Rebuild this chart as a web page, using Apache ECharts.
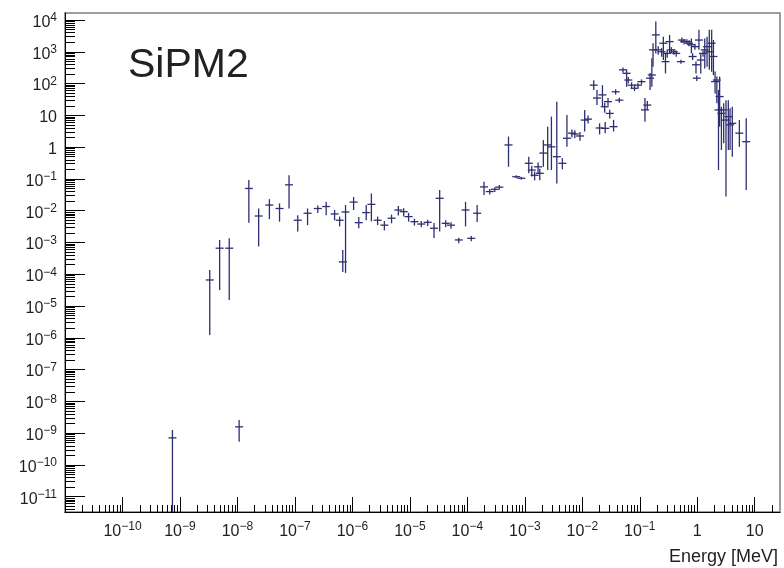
<!DOCTYPE html>
<html>
<head>
<meta charset="utf-8">
<script src="https://cdn.jsdelivr.net/npm/echarts@6/dist/echarts.min.js"></script>
<style>
  html, body { margin: 0; padding: 0; background: #ffffff; }
  #chart { width: 784px; height: 568px; }
</style>
</head>
<body>
<div id="chart"></div>
<script>
// SiPM2 energy spectrum: bin energy (MeV), bin content and error-bar bounds
const energy = [
  7.4e-10, 1.07e-8, 3.3e-9, 4.9e-9, 7.2e-9, 1.58e-8, 2.34e-8, 3.6e-8, 5.4e-8, 7.9e-8,
  1.12e-7, 1.66e-7, 2.5e-7, 3.5e-7, 4.9e-7, 6.0e-7, 6.8e-7, 7.6e-7, 1.05e-6, 1.29e-6,
  1.74e-6, 2.14e-6, 2.75e-6, 3.6e-6, 4.8e-6, 6.3e-6, 7.8e-6, 9.5e-6, 1.2e-5, 1.58e-5,
  2.04e-5, 2.63e-5, 3.3e-5, 4.2e-5, 5.2e-5, 7.1e-5, 9.3e-5, 1.17e-4, 1.48e-4, 1.95e-4,
  2.45e-4, 3.0e-4, 3.6e-4, 5.2e-4, 7.1e-4, 8.7e-4, 1.17e-3, 1.32e-3, 1.48e-3, 1.70e-3,
  1.82e-3, 2.1e-3, 2.5e-3, 2.9e-3, 3.6e-3, 4.5e-3, 5.4e-3, 6.6e-3, 7.4e-3, 9.1e-3,
  0.011, 0.0126, 0.0158, 0.018, 0.020, 0.0224, 0.0245, 0.025, 0.028, 0.030,
  0.035, 0.038, 0.044, 0.051, 0.059, 0.063, 0.072, 0.081, 0.093, 0.107,
  0.123, 0.135, 0.151, 0.162, 0.170, 0.19, 0.209, 0.24, 0.257, 0.28,
  0.30, 0.33, 0.355, 0.39, 0.43, 0.52, 0.54, 0.59, 0.66, 0.72,
  0.79, 0.83, 0.91, 0.95, 0.98, 1.07, 1.15, 1.26, 1.35, 1.48,
  1.62, 1.78, 1.91, 2.04, 2.19, 2.34, 2.45, 2.63, 2.88, 3.16,
  3.47, 3.72, 4.07, 5.4, 7.1
];
const counts = [
  7.1e-10, 1.58e-9, 6.6e-5, 6.6e-4, 6.6e-4, 0.050, 6.8e-3, 0.015, 0.0117, 0.065,
  5.0e-3, 8.3e-3, 0.0117, 0.0135, 7.9e-3, 5.0e-3, 2.45e-4, 9.1e-3, 0.0186, 4.2e-3,
  8.7e-3, 0.0158, 5.0e-3, 3.5e-3, 5.8e-3, 0.0105, 9.3e-3, 6.5e-3, 4.5e-3, 3.8e-3,
  4.3e-3, 2.8e-3, 0.0245, 4.0e-3, 3.5e-3, 1.2e-3, 0.0105, 1.35e-3, 8.3e-3, 0.056,
  0.040, 0.047, 0.055, 1.17, 0.117, 0.105, 0.31, 0.19, 0.13, 0.24,
  0.15, 0.65, 1.17, 1.02, 0.50, 0.31, 1.9, 2.75, 2.6, 2.24,
  7.1, 7.6, 89, 35, 4.0, 44, 18.6, 3.9, 27, 11.5,
  4.4, 55, 30, 270, 210, 129, 89, 71, 89, 115,
  14.8, 21, 148, 186, 1150, 3400, 1150, 1000, 1860, 490,
  890, 2090, 1150, 1000, 890, 490, 2340, 2090, 2090, 1860,
  1660, 710, 1450, 390, 148, 2340, 550, 890, 1150, 1450,
  1000, 1860, 710, 115, 129, 14.8, 39, 11.5, 14.8, 7.1,
  9.1, 5.0, 5.6, 2.75, 1.48
];
const lowerBound = [
  0, 5.4e-10, 1.23e-6, 3.16e-5, 1.55e-5, 4.2e-3, 7.4e-4, 5.4e-3, 4.5e-3, 0.0117,
  2.2e-3, 3.5e-3, 8.5e-3, 7.2e-3, 5.0e-3, 3.2e-3, 1.17e-4, 1.1e-4, 0.0105, 2.8e-3,
  5.0e-3, 4.6e-3, 3.5e-3, 2.4e-3, 4.0e-3, 7.0e-3, 6.5e-3, 4.5e-3, 3.4e-3, 3.0e-3,
  3.3e-3, 1.38e-3, 2.2e-3, 3.0e-3, 2.7e-3, 9.5e-4, 3.2e-3, 1.1e-3, 4.4e-3, 0.031,
  0.032, 0.039, 0.046, 0.24, 0.105, 0.095, 0.15, 0.12, 0.09, 0.15,
  0.09, 0.24, 0.19, 0.19, 0.072, 0.2, 1.02, 2.0, 1.9, 1.6,
  3.1, 5.5, 63, 21, 2.5, 18.6, 12, 2.75, 20, 8,
  3.1, 45, 25, 220, 79, 100, 70, 58, 72, 95,
  6.3, 15, 63, 79, 339, 890, 800, 700, 550, 209,
  650, 910, 900, 800, 700, 420, 1900, 1700, 1700, 1500,
  890, 550, 1150, 209, 120, 1150, 209, 700, 300, 340,
  270, 235, 186, 49, 24, 0.19, 4.4, 0.81, 1.32, 0.028,
  0.81, 0.81, 0.5, 1.02, 0.045
];
const upperBound = [
  1.26e-9, 2.6e-9, 1.35e-4, 1.2e-3, 1.35e-3, 0.093, 0.0117, 0.023, 0.017, 0.13,
  7.2e-3, 0.0117, 0.0145, 0.019, 0.0105, 6.5e-3, 5.8e-4, 0.015, 0.027, 6.3e-3,
  0.015, 0.035, 6.5e-3, 4.7e-3, 7.5e-3, 0.014, 0.012, 8.5e-3, 5.6e-3, 4.7e-3,
  5.2e-3, 4.1e-3, 0.045, 5.0e-3, 4.3e-3, 1.4e-3, 0.019, 1.6e-3, 0.015, 0.081,
  0.048, 0.055, 0.064, 2.14, 0.13, 0.115, 0.50, 0.26, 0.17, 0.33,
  0.21, 1.66, 4.4, 9.1, 27, 0.45, 10.2, 3.6, 3.4, 3.0,
  14.8, 9.8, 126, 63, 5.6, 89, 25, 6.2, 35, 15,
  7.2, 66, 36, 320, 270, 160, 110, 85, 105, 135,
  35, 28, 214, 630, 1860, 8900, 1500, 1300, 3000, 890,
  1150, 3400, 1400, 1200, 1100, 560, 2800, 2500, 2500, 2300,
  2630, 900, 1800, 490, 180, 4900, 890, 1100, 2630, 2950,
  4900, 4900, 2340, 240, 166, 63, 166, 18.6, 24, 30,
  30, 16.6, 18.6, 7.1, 8.1
];

// Axis ranges (MeV on x, entries on y) and decade tick labels
const xRange = [1e-11, 27.5];
const yRange = [3.3e-12, 1.66e4];
const xLabelDecades = [-10, -9, -8, -7, -6, -5, -4, -3, -2, -1, 0, 1];
const yLabelDecades = [-11, -10, -9, -8, -7, -6, -5, -4, -3, -2, -1, 0, 1, 2, 3, 4];

const FONT = '"Liberation Sans", Arial, Helvetica, sans-serif';
const INK = '#1e1e1e';
const MARK = '#2e2e72';

// Both axes are logarithmic: positions are handled in log10 space
const lg = v => Math.log10(v);
const xMin = lg(xRange[0]), xMax = lg(xRange[1]);
const yMin = lg(yRange[0]), yMax = lg(yRange[1]);

function majorTicks(lo, hi) {
  const out = [];
  for (let n = Math.ceil(lo); n <= Math.floor(hi); n++) out.push(n);
  return out;
}
function minorTicks(lo, hi) {
  const out = [];
  for (let n = Math.floor(lo) - 1; n <= Math.ceil(hi); n++) {
    for (let k = 2; k <= 9; k++) {
      const v = n + Math.log10(k);
      if (v > lo && v < hi) out.push(v);
    }
  }
  return out;
}

function powerLabel(v) {
  const n = Math.round(v);
  if (n === 0) return '{b|1}';
  if (n === 1) return '{b|10}';
  return '{b|10}{s|' + (n < 0 ? '\u2212' : '') + Math.abs(n) + '}';
}
const labelRich = {
  b: { fontSize: 16, lineHeight: 16, padding: [5, 0, 0, 0], fontFamily: FONT, color: INK },
  s: { fontSize: 12, lineHeight: 12, verticalAlign: 'top', fontFamily: FONT, color: INK }
};

const points = energy.map((e, i) => {
  const lo = lowerBound[i] > 0 ? lg(lowerBound[i]) : yMin - 2;
  return [lg(e), lg(counts[i]), lo, lg(upperBound[i])];
});

const chart = echarts.init(document.getElementById('chart'), null, { renderer: 'canvas' });

const baseX = {
  type: 'value', min: xMin, max: xMax, position: 'bottom',
  splitLine: { show: false },
  axisLine: { onZero: false }
};
const baseY = {
  type: 'value', min: yMin, max: yMax, position: 'left',
  splitLine: { show: false },
  axisLine: { onZero: false }
};

chart.setOption({
  animation: false,
  backgroundColor: '#ffffff',
  title: [
    {
      text: 'SiPM2', left: 128, top: 45, padding: 0,
      textStyle: { fontFamily: FONT, fontSize: 41, fontWeight: 'normal', color: '#222222' }
    },
    {
      text: 'Energy [MeV]', right: 6, top: 548, padding: 0,
      textStyle: { fontFamily: FONT, fontSize: 18, fontWeight: 'normal', color: INK }
    }
  ],
  grid: {
    left: 65, right: 4, top: 13, bottom: 56,
    show: true, borderColor: '#7d7d7d', borderWidth: 1.5,
    backgroundColor: 'transparent',
    outerBoundsMode: 'none'
  },
  xAxis: [
    Object.assign({}, baseX, {
      axisLine: { show: true, onZero: false, lineStyle: { color: '#000', width: 1 } },
      axisTick: { show: true, inside: true, length: 15, customValues: majorTicks(xMin, xMax),
                  lineStyle: { color: '#000', width: 1 } },
      axisLabel: { show: true, margin: 9, customValues: xLabelDecades,
                   formatter: powerLabel, rich: labelRich }
    }),
    Object.assign({}, baseX, {
      axisLine: { show: false, onZero: false },
      axisTick: { show: true, inside: true, length: 7, customValues: minorTicks(xMin, xMax),
                  lineStyle: { color: '#000', width: 1 } },
      axisLabel: { show: false }
    })
  ],
  yAxis: [
    Object.assign({}, baseY, {
      axisLine: { show: true, onZero: false, lineStyle: { color: '#000', width: 1 } },
      axisTick: { show: true, inside: true, length: 20, customValues: majorTicks(yMin, yMax),
                  lineStyle: { color: '#000', width: 1 } },
      axisLabel: { show: true, margin: 8, customValues: yLabelDecades,
                   formatter: powerLabel, rich: labelRich }
    }),
    Object.assign({}, baseY, {
      axisLine: { show: false, onZero: false },
      axisTick: { show: true, inside: true, length: 10, customValues: minorTicks(yMin, yMax),
                  lineStyle: { color: '#000', width: 1 } },
      axisLabel: { show: false }
    })
  ],
  series: [{
    type: 'custom',
    xAxisIndex: 0, yAxisIndex: 0,
    clip: true,
    data: points,
    encode: { x: 0, y: 1 },
    renderItem: function (params, api) {
      const x = api.value(0), y = api.value(1);
      const c = api.coord([x, y]);
      const pLo = api.coord([x, api.value(2)]);
      const pHi = api.coord([x, api.value(3)]);
      const hw = 4;
      const style = { stroke: MARK, lineWidth: 1.3 };
      return {
        type: 'group',
        children: [
          { type: 'line', shape: { x1: c[0], y1: pLo[1], x2: c[0], y2: pHi[1] }, style: style },
          { type: 'line', shape: { x1: c[0] - hw, y1: c[1], x2: c[0] + hw, y2: c[1] }, style: style }
        ]
      };
    }
  }]
});
</script>
</body>
</html>
